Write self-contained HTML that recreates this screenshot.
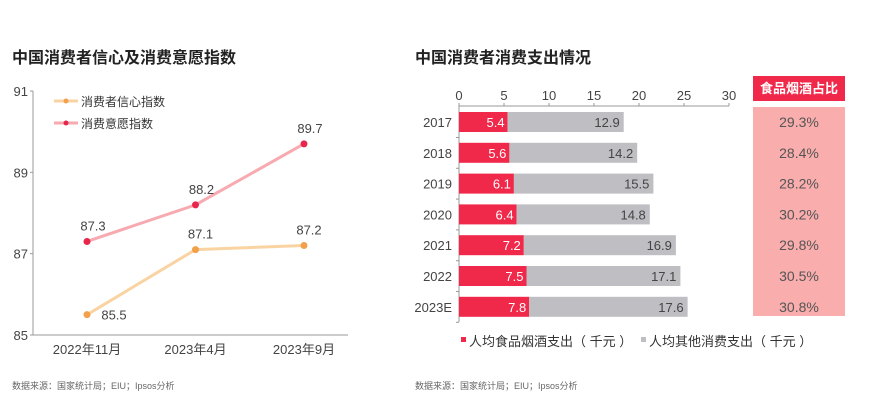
<!DOCTYPE html>
<html><head><meta charset="utf-8"><style>
body{margin:0;width:869px;height:405px;background:#fff;overflow:hidden;font-family:"Liberation Sans","Noto Sans CJK SC",sans-serif}
</style></head><body>
<svg width="869" height="405" viewBox="0 0 869 405" xmlns="http://www.w3.org/2000/svg" style="font-family:'Liberation Sans','Noto Sans CJK SC',sans-serif">
<text x="12" y="63" font-size="16" font-weight="bold" fill="#222">中国消费者信心及消费意愿指数</text>
<text x="415" y="63" font-size="16" font-weight="bold" fill="#222">中国消费者消费支出情况</text>
<g id="left"></g>
<g id="right"></g>
<text x="12" y="389" font-size="9" fill="#666">数据来源：国家统计局；EIU；Ipsos分析</text>
<text x="415" y="389" font-size="9" fill="#666">数据来源：国家统计局；EIU；Ipsos分析</text>
</svg>
<script>
const lineCats=["2022年11月","2023年4月","2023年9月"];
const confidence=[85.5,87.1,87.2];
const willingness=[87.3,88.2,89.7];
const yTicks=[85,87,89,91];
const barCats=["2017","2018","2019","2020","2021","2022","2023E"];
const foodSpend=[5.4,5.6,6.1,6.4,7.2,7.5,7.8];
const otherSpend=[12.9,14.2,15.5,14.8,16.9,17.1,17.6];
const foodShare=["29.3%","28.4%","28.2%","30.2%","29.8%","30.5%","30.8%"];
const xTicks=[0,5,10,15,20,25,30];
const NS="http://www.w3.org/2000/svg";
function mk(p,t,a,txt){const e=document.createElementNS(NS,t);for(const k in a)e.setAttribute(k,a[k]);if(txt!==undefined)e.textContent=txt;p.appendChild(e);return e;}
const L=document.getElementById('left');
const ly=v=>335-(v-85)*(244/6);
const lx=i=>87+i*108.5;
mk(L,'line',{x1:33,y1:91,x2:33,y2:335,stroke:'#999','stroke-width':1});
mk(L,'line',{x1:33,y1:335,x2:348,y2:335,stroke:'#999','stroke-width':1});
yTicks.forEach(v=>{const t=mk(L,'text',{x:28,y:ly(v)+5,'text-anchor':'end','font-size':13,fill:'#444'},v);

mk(L,'line',{x1:30,y1:ly(v),x2:33,y2:ly(v),stroke:'#999'});});
lineCats.forEach((c,i)=>{const t=mk(L,'text',{x:lx(i),y:354,'text-anchor':'middle','font-size':13,fill:'#444'},c);
});
function series(vals,lc,dc,name,offs){
 const pl=mk(L,'polyline',{points:vals.map((v,i)=>lx(i)+','+ly(v)).join(' '),fill:'none',stroke:lc,'stroke-width':3});
 
 vals.forEach((v,i)=>{const c=mk(L,'circle',{cx:lx(i),cy:ly(v),r:3.5,fill:dc});
 
 const o=offs[i];const t=mk(L,'text',{x:lx(i)+o[0],y:ly(v)+o[1],'text-anchor':'middle','font-size':13,fill:'#444'},v.toFixed(1));
 });
}
series(confidence,'#fad3a2','#f3a04a','confidence',[[27,5],[5,-11],[5,-11]]);
series(willingness,'#f7aab0','#e8254a','willingness',[[6,-11],[6,-11],[6,-11]]);
const lg=[["消费者信心指数",'#fad3a2','#f3a04a',101],["消费意愿指数",'#f7aab0','#e8254a',123]];
lg.forEach(g=>{const gg=mk(L,'g',{});
mk(gg,'line',{x1:54,y1:g[3],x2:78,y2:g[3],stroke:g[1],'stroke-width':3});mk(gg,'circle',{cx:66,cy:g[3],r:2.5,fill:g[2]});
mk(gg,'text',{x:81,y:g[3]+5,'font-size':12,fill:'#333'},g[0]);});
const R=document.getElementById('right');
const bx=v=>459+v*9;
const by=i=>112+i*30.8;
mk(R,'line',{x1:459,y1:106,x2:729,y2:106,stroke:'#999'});
mk(R,'line',{x1:459,y1:106,x2:459,y2:322,stroke:'#999'});
xTicks.forEach(v=>{const t=mk(R,'text',{x:bx(v),y:100,'text-anchor':'middle','font-size':13,fill:'#444'},v);

mk(R,'line',{x1:bx(v),y1:103,x2:bx(v),y2:106,stroke:'#999'});});
mk(R,'rect',{x:753,y:76,width:92,height:25,fill:'#f0284a'});
mk(R,'text',{x:799,y:93,'text-anchor':'middle','font-size':13,'font-weight':'bold',fill:'#fff'},'食品烟酒占比');
mk(R,'rect',{x:753,y:107,width:92,height:209,fill:'#f9adad'});
barCats.forEach((c,i)=>{const y=by(i);
 const t=mk(R,'text',{x:452,y:y+15,'text-anchor':'end','font-size':13,fill:'#444'},c);
 
 mk(R,'line',{x1:456,y1:y+25.5,x2:459,y2:y+25.5,stroke:'#999'});
 const a=mk(R,'rect',{x:bx(0),y:y,width:bx(foodSpend[i])-bx(0),height:20,fill:'#f0284a'});
 
 const b=mk(R,'rect',{x:bx(foodSpend[i]),y:y,width:bx(otherSpend[i]+foodSpend[i])-bx(foodSpend[i]),height:20,fill:'#bfbec3'});
 
 const t1=mk(R,'text',{x:bx(foodSpend[i])-3,y:y+15,'text-anchor':'end','font-size':13,fill:'#fff'},foodSpend[i]);
 
 const t2=mk(R,'text',{x:bx(foodSpend[i]+otherSpend[i])-4,y:y+15,'text-anchor':'end','font-size':13,fill:'#444'},otherSpend[i]);
 
 const t3=mk(R,'text',{x:799,y:y+15,'text-anchor':'middle','font-size':14,fill:'#555'},foodShare[i]);
 
});
const rl=[["人均食品烟酒支出（ 千元 ）",'#f0284a',461],["人均其他消费支出（ 千元 ）",'#bfbec3',641]];
rl.forEach(g=>{const gg=mk(R,'g',{});
mk(gg,'rect',{x:g[2],y:337,width:5,height:5,fill:g[1]});
mk(gg,'text',{x:g[2]+8,y:346,'font-size':13,fill:'#333'},g[0]);});
</script>
</body></html>
